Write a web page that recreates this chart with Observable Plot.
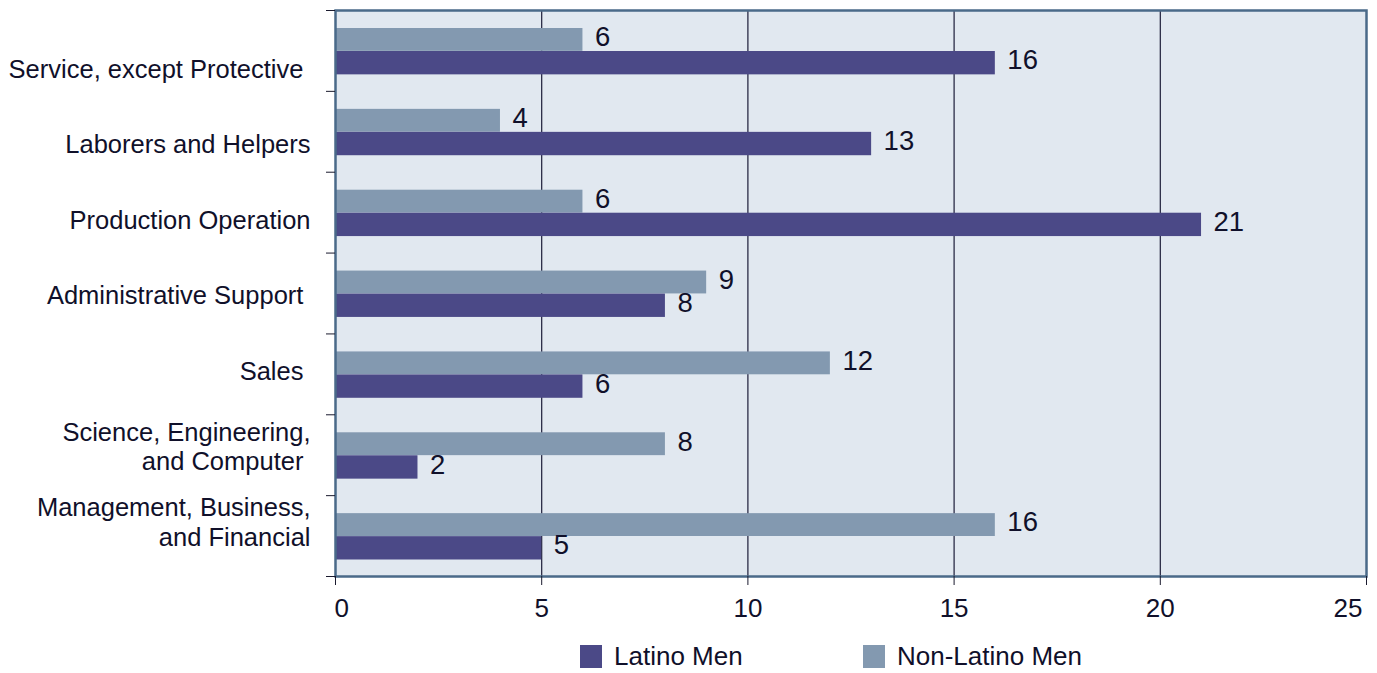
<!DOCTYPE html>
<html>
<head>
<meta charset="utf-8">
<script src="https://cdn.jsdelivr.net/npm/d3@7"></script>
<script src="https://cdn.jsdelivr.net/npm/@observablehq/plot@0.6"></script>
<style>
  html, body { margin: 0; padding: 0; background: white; }
  #wrap { position: relative; width: 1377px; height: 673px; font-family: "Liberation Sans", Arial, sans-serif; color: #10102a; }
  #legend { position: absolute; top: 640px; left: 0; width: 1377px; height: 33px; font-size: 26px; }
  .item { position: absolute; top: 0; display: flex; align-items: center; height: 33px; }
  .sw { width: 22px; height: 23px; margin-right: 12px; }
</style>
</head>
<body>
<div id="wrap"><div id="chart"></div><div id="legend"></div></div>
<script>
const categories = [
  "Service, except Protective ",
  "Laborers and Helpers",
  "Production Operation",
  "Administrative Support ",
  "Sales ",
  "Science, Engineering,\nand Computer ",
  "Management, Business,\nand Financial"
];
const series = ["Latino Men", "Non-Latino Men"];
const latinoMen = [16, 13, 21, 8, 6, 2, 5];
const nonLatinoMen = [6, 4, 6, 9, 12, 8, 16];
const xTicks = [0, 5, 10, 15, 20, 25];

const colors = {"Latino Men": "#4b4987", "Non-Latino Men": "#8399b0"};
const textColor = "#10102a";

const rows = categories.flatMap((c, i) => [
  {category: c, series: series[0], value: latinoMen[i]},
  {category: c, series: series[1], value: nonLatinoMen[i]}
]);
const latinoRows = rows.filter(d => d.series === "Latino Men");
const nonLatinoRows = rows.filter(d => d.series === "Non-Latino Men");

const W = 1377, H = 628, mT = 10, mB = 52, mL = 335, mR = 11;
const bw = (H - mT - mB) / categories.length;
const labelTop = 68, labelStep = 75.5;
const show = s => s.replace(/ $/, "\u00a0");

const labelMarks = categories.map((c, i) =>
  Plot.text([c], {
    y: d => d, text: d => show(d), frameAnchor: "left", textAnchor: "end",
    dx: -25, dy: (labelTop + i * labelStep) - (mT + (i + 0.5) * bw),
    fontSize: 25.5, lineHeight: 1.15, fill: textColor
  })
);

const axisText = {tickSize: 0, tickPadding: 22, fontSize: 26, fill: textColor, label: null, tickFormat: d => String(d)};

const chart = Plot.plot({
  width: W, height: H, marginTop: mT, marginBottom: mB, marginLeft: mL, marginRight: mR,
  style: {fontFamily: "'Liberation Sans', Arial, sans-serif", fontSize: "25px", color: textColor, background: "white"},
  x: {domain: [0, 25], axis: null},
  y: {domain: categories, padding: 0, round: false, axis: null},
  marks: [
    Plot.frame({fill: "#e1e8f0"}),
    Plot.ruleX(xTicks.filter(v => v > 0 && v < 25), {stroke: "#1c1c38", strokeWidth: 1.2}),
    Plot.barX(nonLatinoRows, {x: "value", y: "category", fill: colors["Non-Latino Men"], insetTop: 18, insetBottom: 40}),
    Plot.barX(latinoRows, {x: "value", y: "category", fill: colors["Latino Men"], insetTop: 41, insetBottom: 16.5}),
    Plot.frame({stroke: "#4a6a89", strokeWidth: 2.5}),
    Plot.text(nonLatinoRows, {x: "value", y: "category", text: d => String(d.value), textAnchor: "start", dx: 12, dy: -13.5, fontSize: 27.5, fill: textColor}),
    Plot.text(latinoRows, {x: "value", y: "category", text: d => String(d.value), textAnchor: "start", dx: 12, dy: 9.5, fontSize: 27.5, fill: textColor}),
    Plot.axisX({ticks: xTicks, tickSize: 9, stroke: "#1a1a2e", tickFormat: () => "", label: null}),
    Plot.axisX({...axisText, ticks: xTicks.slice(0, 1), textAnchor: "start", dx: -1}),
    Plot.axisX({...axisText, ticks: xTicks.slice(1, -1)}),
    Plot.axisX({...axisText, ticks: xTicks.slice(-1), textAnchor: "end", dx: -4}),
    Plot.axisY({ticks: categories, tickSize: 9, tickFormat: () => "", dy: -bw / 2, stroke: "#1a1a2e", label: null}),
    Plot.axisY({ticks: categories.slice(-1), tickSize: 9, tickFormat: () => "", dy: bw / 2, stroke: "#1a1a2e", label: null}),
    ...labelMarks
  ]
});
document.getElementById("chart").append(chart);

const legend = document.getElementById("legend");
const legendLeft = {"Latino Men": 580, "Non-Latino Men": 863};
for (const s of series) {
  const item = document.createElement("div");
  item.className = "item";
  item.style.left = legendLeft[s] + "px";
  const sw = document.createElement("div");
  sw.className = "sw";
  sw.style.background = colors[s];
  const t = document.createElement("span");
  t.textContent = s;
  item.append(sw, t);
  legend.append(item);
}
</script>
</body>
</html>
